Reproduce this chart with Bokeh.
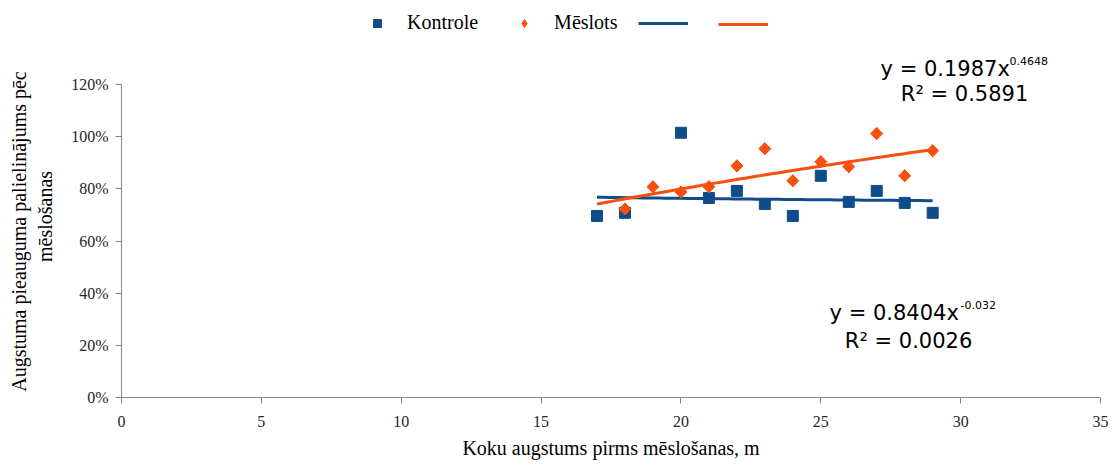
import numpy as np
from bokeh.plotting import figure
from bokeh.models import (Range1d, NumeralTickFormatter, FixedTicker, Legend, LegendItem, Label)
from bokeh.embed import file_html
from bokeh.resources import INLINE

# Tree height before fertilisation (m) and relative height-growth increase
kontrole_x = [17, 18, 20, 21, 22, 23, 24, 25, 26, 27, 28, 29]
kontrole_y = [0.696, 0.708, 1.015, 0.765, 0.792, 0.742, 0.696, 0.850, 0.750, 0.792, 0.746, 0.708]

meslots_x = [18, 19, 20, 21, 22, 23, 24, 25, 26, 27, 28, 29]
meslots_y = [0.723, 0.808, 0.788, 0.808, 0.888, 0.954, 0.831, 0.904, 0.885, 1.012, 0.850, 0.946]

# Power trend lines y = a * x^b  (a, b, R²)
kontrole_fit = (0.8404, -0.032, 0.0026)
meslots_fit = (0.1987, 0.4648, 0.5891)
trend_x_range = (17, 29)

y_ticks = [0, 0.2, 0.4, 0.6, 0.8, 1.0, 1.2]
x_ticks = [0, 5, 10, 15, 20, 25, 30, 35]

BLUE = "#0F4C8A"
ORANGE = "#FA4F0E"
SERIF = "Liberation Serif"
SANS = "DejaVu Sans"

# frame spans the full height above the x axis so legend and equations fit inside it
PX_PER_UNIT = 260.83
FRAME_H = 397
p = figure(width=1112, height=465, output_backend="svg", toolbar_location=None,
           x_range=Range1d(0, 35), y_range=Range1d(0, FRAME_H / PX_PER_UNIT),
           min_border_left=121, min_border_right=12, min_border_top=0, min_border_bottom=68)
p.outline_line_color = None
p.xgrid.visible = False
p.ygrid.visible = False
p.background_fill_color = "white"

for ax in (p.xaxis[0], p.yaxis[0]):
    ax.axis_line_color = "#868686"
    ax.major_tick_line_color = "#868686"
    ax.major_tick_out = 6
    ax.major_tick_in = 0
    ax.minor_tick_line_color = None
    ax.major_label_text_font = SERIF
    ax.major_label_text_font_size = "16px"
    ax.major_label_text_color = "#262626"
    ax.axis_label_text_font = SERIF
    ax.axis_label_text_font_size = "20px"
    ax.axis_label_text_font_style = "normal"
    ax.axis_label_text_color = "#000000"

p.xaxis.ticker = FixedTicker(ticks=x_ticks)
p.yaxis.ticker = FixedTicker(ticks=y_ticks)
p.yaxis.bounds = (0, 1.2)
p.yaxis.formatter = NumeralTickFormatter(format="0%")
p.xaxis.axis_label = "Koku augstums pirms mēslošanas, m"
p.xaxis.major_label_standoff = 12
p.xaxis.axis_label_standoff = 7

# trailing no-break spaces move the two-line title down towards the 0–120 % span of the axis
p.yaxis.axis_label = ("Augstuma pieauguma palielinājums pēc" + "\u00a0" * 13
                      + "\nmēslošanas" + "\u00a0" * 7)
p.yaxis.major_label_standoff = 7
p.yaxis.axis_label_standoff = 12

tx = np.linspace(trend_x_range[0], trend_x_range[1], 60)
k_line = p.line(tx, kontrole_fit[0] * tx ** kontrole_fit[1], line_color=BLUE, line_width=3)
m_line = p.line(tx, meslots_fit[0] * tx ** meslots_fit[1], line_color=ORANGE, line_width=3)

k_pts = p.scatter(kontrole_x, kontrole_y, marker="square", size=11, fill_color=BLUE, line_color=BLUE)
# narrow diamond (legend swatch) sits fully under the rotated-square markers
m_key = p.scatter(meslots_x, meslots_y, marker="diamond", size=12, fill_color=ORANGE, line_color=ORANGE)
m_pts = p.scatter(meslots_x, meslots_y, marker="square", angle=np.pi / 4, size=8.5,
                  fill_color=ORANGE, line_color=ORANGE)

legend_style = dict(orientation="horizontal",
                    label_text_font=SERIF, label_text_font_size="20px", label_text_color="#000000",
                    glyph_width=50, glyph_height=20, label_standoff=5, spacing=21,
                    border_line_color=None, background_fill_alpha=0, margin=0, padding=0)

legend = Legend(items=[
    LegendItem(label="Kontrole", renderers=[k_pts]),
    LegendItem(label="Mēslots", renderers=[m_key]),
    LegendItem(label="", renderers=[k_line]),
], location=(231, FRAME_H - 34), **legend_style)
p.add_layout(legend)

legend_fit = Legend(items=[LegendItem(label="", renderers=[m_line])],
                    location=(597, FRAME_H - 34), **legend_style)
p.add_layout(legend_fit)


def to_x(px):
    return (px - 121) / 27.97


def to_y(py):
    return (FRAME_H - py) / PX_PER_UNIT


def add_eq(fit, left_px, mid_px, sup_px, sup_mid_px, r_center_px, r_mid_px):
    a, b, r2 = fit
    p.add_layout(Label(x=to_x(left_px), y=to_y(mid_px), text=f"y = {a}x",
                       text_font=SANS, text_font_size="21px",
                       text_baseline="middle", text_align="left", text_color="#000000"))
    p.add_layout(Label(x=to_x(sup_px), y=to_y(sup_mid_px), text=f"{b}",
                       text_font=SANS, text_font_size="11px",
                       text_baseline="middle", text_align="left", text_color="#000000"))
    p.add_layout(Label(x=to_x(r_center_px), y=to_y(r_mid_px), text=f"R² = {r2}",
                       text_font=SANS, text_font_size="21px",
                       text_baseline="middle", text_align="center", text_color="#000000"))


add_eq(meslots_fit, 880, 68, 1009, 60, 964, 93)
add_eq(kontrole_fit, 829, 312, 960, 304, 908, 340)

open("out.html", "w").write(file_html(p, INLINE))
